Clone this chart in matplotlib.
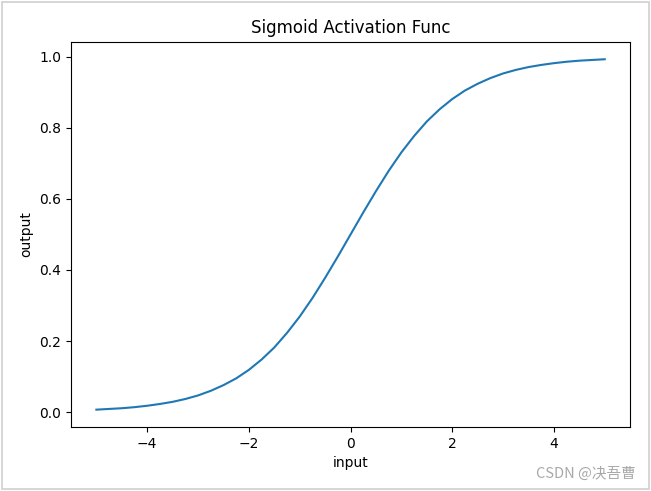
import matplotlib.pyplot as plt
from matplotlib.patches import Rectangle

# values
x_in = [-5.0, -4.75, -4.5, -4.25, -4.0, -3.75, -3.5, -3.25, -3.0, -2.75, -2.5,
        -2.25, -2.0, -1.75, -1.5, -1.25, -1.0, -0.75, -0.5, -0.25, 0.0,
        0.25, 0.5, 0.75, 1.0, 1.25, 1.5, 1.75, 2.0, 2.25, 2.5,
        2.75, 3.0, 3.25, 3.5, 3.75, 4.0, 4.25, 4.5, 4.75, 5.0]
y_out = [0.007, 0.009, 0.011, 0.014, 0.018, 0.023, 0.029, 0.037, 0.047, 0.060, 0.076,
         0.095, 0.119, 0.148, 0.182, 0.223, 0.269, 0.321, 0.378, 0.438, 0.500,
         0.562, 0.622, 0.679, 0.731, 0.777, 0.818, 0.852, 0.881, 0.905, 0.924,
         0.940, 0.953, 0.963, 0.971, 0.977, 0.982, 0.986, 0.989, 0.991, 0.993]

fig = plt.figure(figsize=(6.51, 4.91), dpi=100)
ax = fig.add_axes([0.109, 0.130, 0.859, 0.785])

ax.plot(x_in, y_out, color='#1f77b4', linewidth=1.5)
ax.set_title('Sigmoid Activation Func')
ax.set_xlabel('input')
ax.set_ylabel('output')

# light grey frame around the screenshot
fig.patches.append(Rectangle((0.003, 0.004), 0.994, 0.991, transform=fig.transFigure,
                             fill=False, edgecolor='#d0d0d0', linewidth=1.2))
fig.text(0.977, 0.02, 'CSDN @决吾曹', ha='right', va='bottom', fontsize=10.5,
         color='#a8a8a8', family=['Noto Sans CJK SC', 'DejaVu Sans'])

fig.savefig('out.png', dpi=100)
